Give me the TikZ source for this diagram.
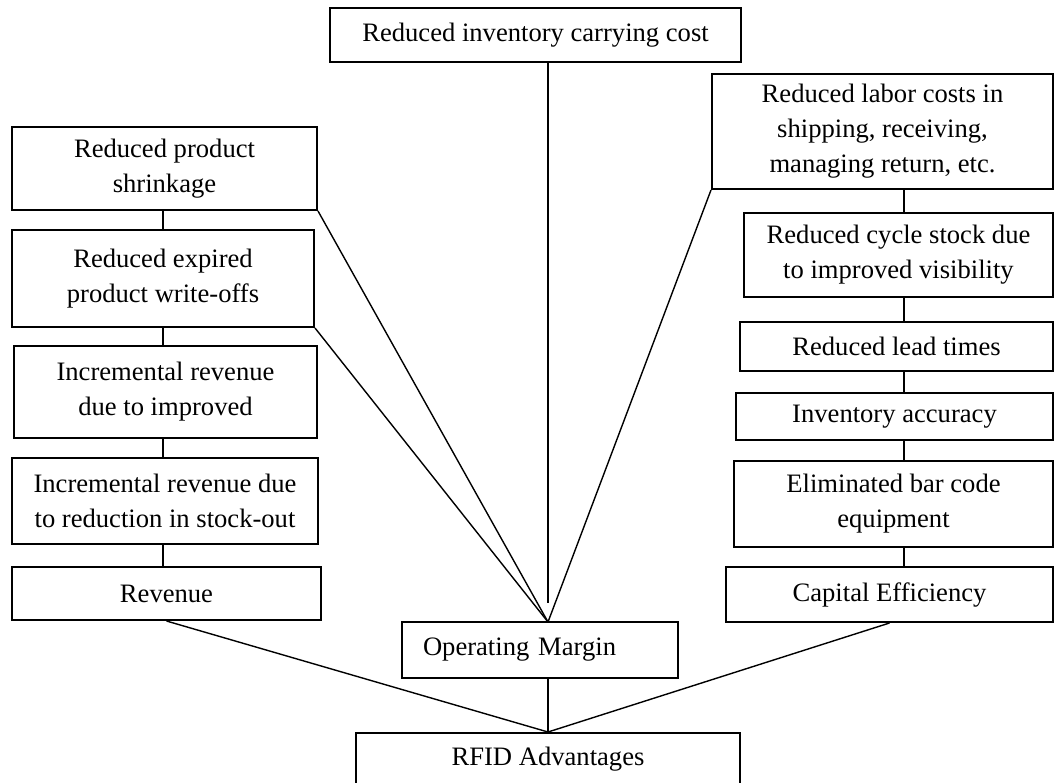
\documentclass[tikz,border=0pt]{standalone}
\usepackage{fontspec}
\setmainfont{Liberation Serif}
\usetikzlibrary{calc}
\tikzset{%
  mybox/.style={rectangle, draw=black, line width=1pt, align=center, inner sep=2pt,
    font=\fontsize{13.3}{17.5}\selectfont},
  myedge/.style={line width=0.7pt}
}

\begin{document}
\begin{tikzpicture}[x=0.5pt, y=-0.5pt]

  \clip (0,0) rectangle (1054,782);

  % top
  \node[mybox, minimum width=205.5pt, minimum height=27pt] (cost) at (535.5,35) {Reduced inventory carrying cost};

  % left column
  \node[mybox, minimum width=152.5pt, minimum height=41.5pt] (shrink) at (164.5,168.5) {Reduced product\\shrinkage};
  \node[mybox, minimum width=151pt, minimum height=48.5pt] (expired) at (163,278.5) {Reduced expired\\product write-offs};
  \node[mybox, minimum width=151.5pt, minimum height=46pt] (improved) at (165.5,392) {Incremental revenue\\due to improved};
  \node[mybox, minimum width=153pt, minimum height=43pt] (stockout) at (165,501) {Incremental revenue due\\to reduction in stock-out};
  \node[mybox, minimum width=154.5pt, minimum height=26.5pt] (revenue) at (166.5,593.5) {Revenue};

  % right column
  \node[mybox, minimum width=170.5pt, minimum height=57.5pt] (labor) at (882.5,131.5) {Reduced labor costs in\\shipping, receiving,\\managing return, etc.};
  \node[mybox, minimum width=154.5pt, minimum height=42pt] (cycle) at (898.5,255) {Reduced cycle stock due\\to improved visibility};
  \node[mybox, minimum width=156.5pt, minimum height=24.5pt] (lead) at (896.5,346.5) {Reduced lead times};
  \node[mybox, minimum width=158.5pt, minimum height=23.5pt] (accuracy) at (894.5,416.5) {Inventory accuracy};
  \node[mybox, minimum width=159.5pt, minimum height=43pt] (barcode) at (893.5,504) {Eliminated bar code\\equipment};
  \node[mybox, minimum width=163.5pt, minimum height=27.5pt] (capital) at (889.5,594.5) {Capital Efficiency};

  % bottom
  \node[mybox, text width=117pt, inner xsep=10.5pt, align=left, minimum height=28pt] (margin) at (540,650) {Operating Margin};
  \node[mybox, minimum width=192pt, minimum height=26.5pt] (rfid) at (548,759.5) {RFID Advantages};

  \coordinate (apex) at (548,622);
  \coordinate (gap) at (548,603);
  \coordinate (lcol) at (163,0);
  \coordinate (rcol) at (904,0);

  \draw [myedge] (cost.south -| apex) -- (gap);
  \draw [myedge] (shrink.south east) -- (apex);
  \draw [myedge] (expired.south east) -- (apex);
  \draw [myedge] (labor.south west) -- (apex);

  \draw [myedge] (shrink.south -| lcol) -- (expired.north -| lcol);
  \draw [myedge] (expired.south -| lcol) -- (improved.north -| lcol);
  \draw [myedge] (improved.south -| lcol) -- (stockout.north -| lcol);
  \draw [myedge] (stockout.south -| lcol) -- (revenue.north -| lcol);

  \draw [myedge] (labor.south -| rcol) -- (cycle.north -| rcol);
  \draw [myedge] (cycle.south -| rcol) -- (lead.north -| rcol);
  \draw [myedge] (lead.south -| rcol) -- (accuracy.north -| rcol);
  \draw [myedge] (accuracy.south -| rcol) -- (barcode.north -| rcol);
  \draw [myedge] (barcode.south -| rcol) -- (capital.north -| rcol);

  \draw [myedge] (revenue.south) -- (rfid.north);
  \draw [myedge] (capital.south) -- (rfid.north);
  \draw [myedge] (margin.south -| rfid.north) -- (rfid.north);
\end{tikzpicture}
\end{document}
